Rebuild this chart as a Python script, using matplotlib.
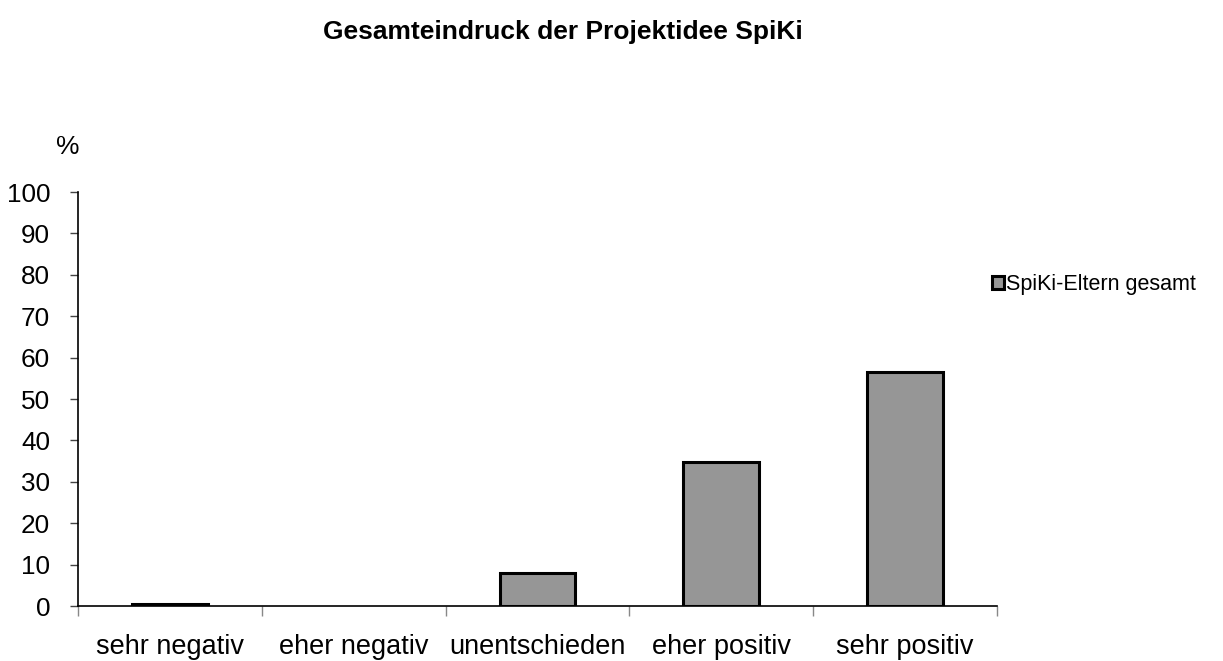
import matplotlib.pyplot as plt
import numpy as np

plt.rcParams['font.family'] = ['Liberation Sans', 'DejaVu Sans']

# data
categories = ["sehr negativ", "eher negativ", "unentschieden", "eher positiv", "sehr positiv"]
values = [0.6, 0.0, 8.0, 34.7, 56.5]
series_name = "SpiKi-Eltern gesamt"

fig = plt.figure(figsize=(12.23, 6.61), dpi=100)
ax = fig.add_axes([0.0638, 0.0832, 0.7512, 0.6263])

x = np.arange(len(categories))
# empty categories get no outline
lw = [2.2 if v > 0 else 0 for v in values]
ax.bar(x, values, width=0.41, color="#969696", edgecolor="black", linewidth=lw,
       label=series_name, zorder=3)

ax.set_xlim(-0.5, len(categories) - 0.5)
ax.set_ylim(0, 100)
ax.set_yticks(range(0, 101, 10))
ax.tick_params(axis="y", labelsize=18.8, length=6, width=1, color="#444444", pad=14)

# category labels centred, ticks on the boundaries
ax.set_xticks(np.arange(-0.5, len(categories), 1.0))
ax.set_xticklabels([])
ax.set_xticks(x, minor=True)
ax.set_xticklabels(categories, minor=True, fontsize=19.5)
ax.tick_params(axis="x", which="major", length=7, width=1, color="#888888")
ax.tick_params(axis="x", which="minor", length=0, pad=20)

for s in ["top", "right"]:
    ax.spines[s].set_visible(False)
ax.spines["left"].set_linewidth(1.2)
ax.spines["bottom"].set_linewidth(1.2)

fig.text(0.0556, 0.777, "%", fontsize=19, ha="center", va="center")
fig.text(0.46, 0.951, "Gesamteindruck der Projektidee SpiKi", fontsize=19,
         fontweight="bold", ha="center", va="center")

leg = fig.legend(loc="center left", bbox_to_anchor=(0.795, 0.569), frameon=False,
                 fontsize=15.5, handlelength=0.55, handleheight=0.55, handletextpad=0.12)

fig.savefig("out.png", dpi=100)
